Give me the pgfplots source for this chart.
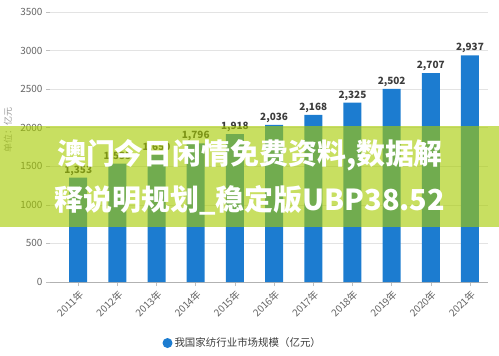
\documentclass[border=0pt]{standalone}
\usepackage{fontspec}
\setmainfont{Noto Sans CJK SC}
\usepackage{pgfplots}
\pgfplotsset{compat=1.18}
\definecolor{barblue}{RGB}{28,124,208}
\definecolor{bannercol}{RGB}{166,203,0}
\definecolor{tickgray}{RGB}{100,100,100}
\definecolor{labgray}{RGB}{60,60,60}
\begin{document}
\begin{tikzpicture}[x=1bp,y=1bp]
\useasboundingbox (0,0) rectangle (499,355);
\begin{axis}[
  at={(50bp,73bp)}, anchor=south west,
  scale only axis, width=438bp, height=270bp,
  ymin=0, ymax=3500, ytick={0,500,...,3500},
  xmin=-0.72, xmax=10.46,
  xtick={0,...,10},
  xticklabels={2011年,2012年,2013年,2014年,2015年,2016年,2017年,2018年,2019年,2020年,2021年},
  xticklabel style={rotate=45, anchor=north east, font=\fontsize{10}{11}\selectfont, text=tickgray, inner sep=2bp},
  yticklabel style={font=\fontsize{10}{11}\selectfont, text=tickgray, /pgf/number format/1000 sep={}},
  /pgf/number format/assume math mode=true,
  axis x line*=bottom, axis y line*=left,
  x axis line style={draw=gray!60, line width=0.8bp, -},
  y axis line style={draw=none},
  ymajorgrids, grid style={draw=gray!22, line width=0.6bp},
  tick style={draw=gray!50, line width=0.6bp},
  major tick length=4bp,
  tick align=outside,
  ybar, bar width=18bp,
  nodes near coords={\pgfmathprintnumber[1000 sep={,}]{\pgfplotspointmeta}},
  nodes near coords style={font=\bfseries\fontsize{10}{11}\selectfont, text=labgray, inner sep=2bp},
  legend style={at={(0.44,-0.226)}, anchor=center, draw=none, fill=none,
    font=\fontsize{10.5}{12}\selectfont, text=labgray},
  legend image code/.code={\fill[barblue] (3bp,0) circle (5bp);},
]
\addplot[fill=barblue, draw=none] coordinates {
 (0,1353) (1,1535) (2,1650) (3,1796) (4,1918) (5,2036)
 (6,2168) (7,2325) (8,2502) (9,2707) (10,2937)};
\addlegendentry{我国家纺行业市场规模（亿元）}
\end{axis}
\node[rotate=90, font=\fontsize{9}{10}\selectfont, text=gray!80] at (8,225) {单位：亿元};
\fill[bannercol, fill opacity=0.62] (0,128) rectangle (499,229);
\node[text=white, font=\bfseries\fontsize{29}{31}\selectfont] at (250,200) {澳门今日闲情免费资料,数据解};
\node[text=white, font=\bfseries\fontsize{29}{31}\selectfont] at (250,155) {释说明规划\_稳定版UBP38.52};
\end{tikzpicture}
\end{document}
